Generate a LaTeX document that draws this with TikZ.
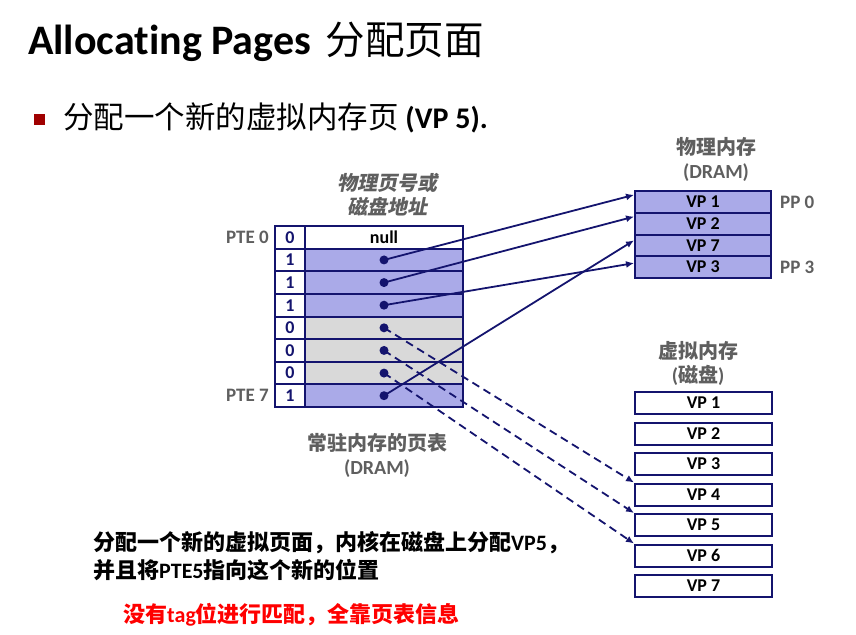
\documentclass[tikz,border=0pt]{standalone}
\usepackage{fontspec}
\setmainfont[Ligatures=NoCommon]{Carlito}
\newfontfamily\cjk{Noto Sans CJK SC}
\newfontfamily\cjkit[FakeSlant=0.2]{Noto Sans CJK SC}
\usetikzlibrary{arrows.meta}

\definecolor{navy}{RGB}{20,20,110}
\definecolor{cellblue}{RGB}{170,170,232}
\definecolor{cellgray}{RGB}{217,217,217}
\definecolor{labelgray}{RGB}{95,95,95}
\definecolor{bulletred}{RGB}{160,0,0}
\definecolor{notered}{RGB}{255,0,0}

\tikzset{
  bitcell/.style={draw=navy, line width=2pt, fill=white, minimum width=30pt,
    minimum height=22.625pt, inner sep=0pt, text=navy,
    font=\fontsize{18}{18}\selectfont\bfseries},
  addrcell/.style={draw=navy, line width=2pt, minimum width=158pt,
    minimum height=22.625pt, inner sep=0pt, font=\fontsize{18}{18}\selectfont\bfseries},
  memcell/.style={draw=navy, line width=2pt, fill=cellblue, minimum width=136pt,
    minimum height=21.75pt, inner sep=0pt, font=\fontsize{18}{18}\selectfont\bfseries},
  diskcell/.style={draw=navy, line width=2pt, fill=white, minimum width=137pt,
    minimum height=22pt, inner sep=0pt, font=\fontsize{18}{18}\selectfont\bfseries},
  dotmark/.style={circle, fill=navy, inner sep=0pt, minimum size=9pt},
  ptr/.style={draw=navy, line width=1.8pt, -{Latex[length=8pt,width=7pt]}},
  ptrdash/.style={ptr, dash pattern=on 8pt off 5pt},
  graylabel/.style={text=labelgray, inner sep=0pt, font=\fontsize{19}{19}\selectfont\bfseries},
  cjklabel/.style={text=labelgray, inner sep=0pt, align=center,
    font=\fontsize{20}{24}\selectfont\cjk\bfseries},
}

\begin{document}
\begin{tikzpicture}[x=1pt, y=-1pt]
\useasboundingbox (0,0) rectangle (856,634);

% heading and bullet line (kern keeps "t" and "i" apart)
\node[anchor=base west, inner sep=0pt] (title) at (28,55)
  {\fontsize{42}{42}\selectfont\bfseries Allocat\kern0pt ing Pages\hspace{15pt}%
   {\fontsize{39.5}{42}\selectfont\cjk\mdseries 分配页面}};
\node[fill=bulletred, minimum size=11pt, inner sep=0pt] (bullet) at (39,119) {};
\node[anchor=base west, inner sep=0pt] (lead) at (63,128)
  {{\fontsize{30.5}{30}\selectfont\cjk 分配一个新的虚拟内存页}%
   \fontsize{30}{30}\selectfont\bfseries\ (VP 5).};

% page table: valid bit + address field
\foreach \i/\bit/\shade in {0/0/white, 1/1/cellblue, 2/1/cellblue, 3/1/cellblue,
                            4/0/cellgray, 5/0/cellgray, 6/0/cellgray, 7/1/cellblue} {
  \node[bitcell] (b\i) at (290, 237.3125+22.625*\i) {\bit};
  \node[addrcell, fill=\shade] (a\i) at (384, 237.3125+22.625*\i) {};
}
\node at (a0) {\fontsize{18}{18}\selectfont\bfseries null};
\foreach \i in {1,...,7} { \node[dotmark] (d\i) at (a\i) {}; }

\node[graylabel, anchor=east] (pte0) at ([xshift=-5pt]b0.west) {PTE 0};
\node[graylabel, anchor=east] (pte7) at ([xshift=-5pt]b7.west) {PTE 7};

\node[cjklabel, font=\fontsize{20}{24}\selectfont\cjkit\bfseries] (addrhead) at (387,195)
  {物理页号或\\磁盘地址};
\node[cjklabel] (pthead) at (377,455)
  {常驻内存的页表\\{\rmfamily (DRAM)}};

% physical memory
\node[cjklabel] (pmhead) at (716,159) {物理内存\\{\rmfamily (DRAM)}};
\node[memcell] (m0) at (703,201.875) {VP 1};
\node[memcell] (m1) at (703,223.625) {VP 2};
\node[memcell] (m2) at (703,245.375) {VP 7};
\node[memcell] (m3) at (703,267.125) {VP 3};
\node[graylabel, anchor=west] (pp0) at ([xshift=8pt]m0.east) {PP 0};
\node[graylabel, anchor=west] (pp3) at ([xshift=8pt]m3.east) {PP 3};

% virtual memory on disk
\node[cjklabel] (vmhead) at (698,363) {虚拟内存\\{\rmfamily(}磁盘{\rmfamily)}};
\foreach \k in {1,...,7} {
  \node[diskcell] (v\k) at (703.5, 403+30.5*\k-30.5) {VP \k};
}

% mappings
\draw[ptr] (d1.center) -- ([yshift=7pt]m0.west);
\draw[ptr] (d2.center) -- ([yshift=7pt]m1.west);
\draw[ptr] (d3.center) -- ([yshift=4pt]m3.west);
\draw[ptr] (d7.center) -- ([yshift=5pt]m2.west);
\draw[ptrdash] (d4.center) -- (v4.north west);
\draw[ptrdash] (d5.center) -- (v5.north west);
\draw[ptrdash] (d6.center) -- (v6.north west);

% notes
\node[anchor=west, inner sep=0pt, align=left,
      font=\fontsize{22}{28}\selectfont\bfseries] (note) at (93,556)
  {{\cjk 分配一个新的虚拟页面，内核在磁盘上分配}VP5{\cjk ，}\\
   {\cjk 并且将}PTE5{\cjk 指向这个新的位置}};
\node[anchor=west, inner sep=0pt, text=notered,
      font=\fontsize{22}{22}\selectfont\bfseries] (remark) at (123,615)
  {{\cjk 没有}tag{\cjk 位进行匹配，全靠页表信息}};
\end{tikzpicture}
\end{document}
